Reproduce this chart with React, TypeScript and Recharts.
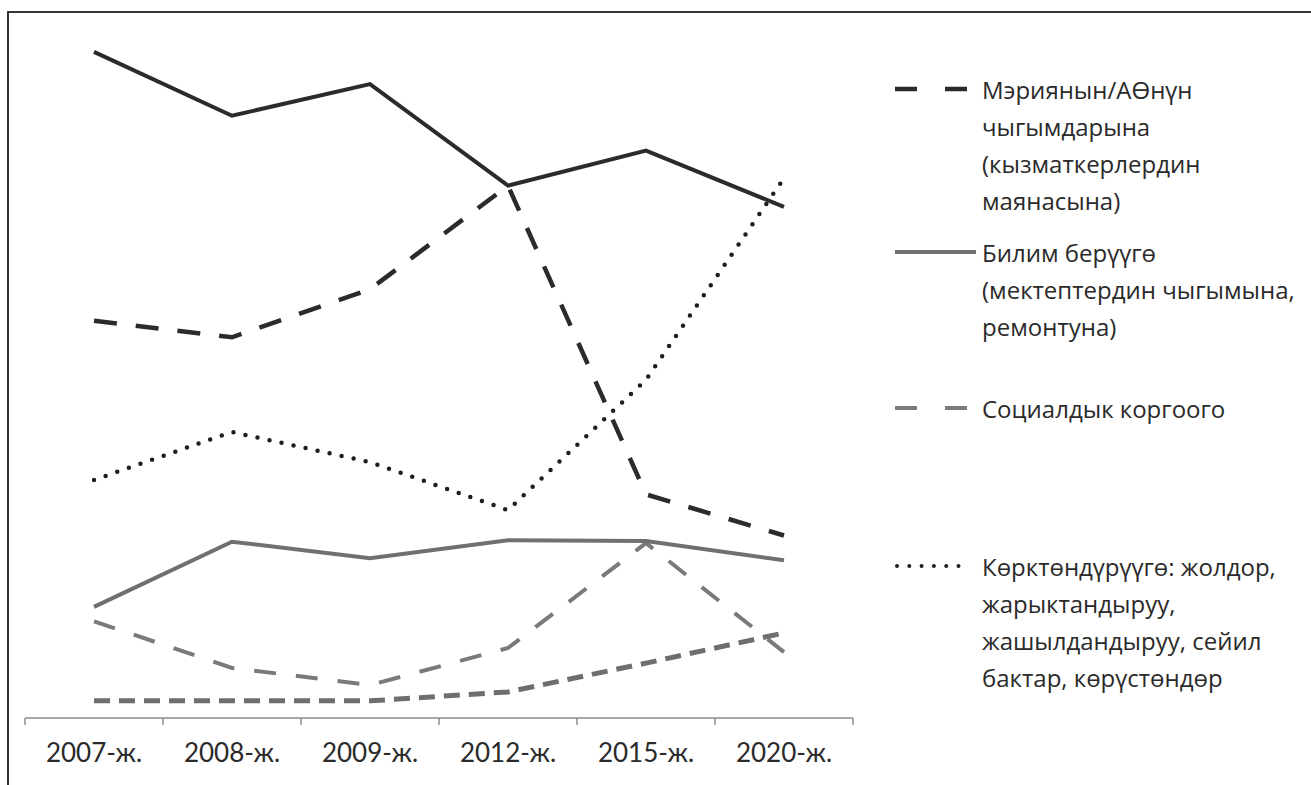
import React from 'react';
import { LineChart, Line, XAxis, YAxis } from 'recharts';

const categories = ['2007-ж.', '2008-ж.', '2009-ж.', '2012-ж.', '2015-ж.', '2020-ж.'];
const totalSeries = [97.1, 87.8, 92.4, 77.6, 82.7, 74.5];
const mayorSeries = [57.9, 55.5, 62.5, 77.6, 32.6, 26.6];
const beautifySeries = [34.7, 41.7, 37.3, 30.3, 49.3, 78.7];
const educationSeries = [16.2, 25.7, 23.3, 25.9, 25.8, 23.0];
const socialSeries = [14.1, 7.3, 4.8, 10.2, 25.5, 9.6];
const otherSeries = [2.5, 2.5, 2.5, 3.8, 8.0, 12.4];

const legendMayor = ['Мэриянын/АӨнүн', 'чыгымдарына', '(кызматкерлердин', 'маянасына)'];
const legendEducation = ['Билим берүүгө', '(мектептердин чыгымына,', 'ремонтуна)'];
const legendSocial = ['Социалдык коргоого'];
const legendBeautify = ['Көрктөндүрүүгө: жолдор,', 'жарыктандыруу,', 'жашылдандыруу, сейил', 'бактар, көрүстөндөр'];

const data = categories.map((c, i) => ({
  cat: c,
  total: totalSeries[i],
  mayor: mayorSeries[i],
  beautify: beautifySeries[i],
  education: educationSeries[i],
  social: socialSeries[i],
  other: otherSeries[i],
}));

const CHART_W = 870;
const CHART_H = 785;
const M_LEFT = 25;
const M_RIGHT = 17;
const BAND = (CHART_W - M_LEFT - M_RIGHT) / categories.length;

const AXIS_COLOR = '#8c8c8c';

const Tick = (props: any) => {
  const { x, y, payload, index } = props;
  const left = x - BAND / 2;
  const right = x + BAND / 2;
  return (
    <g>
      <line x1={left} y1={y} x2={left} y2={y + 7} stroke={AXIS_COLOR} strokeWidth={1.5} />
      {index === categories.length - 1 && (
        <line x1={right} y1={y} x2={right} y2={y + 7} stroke={AXIS_COLOR} strokeWidth={1.5} />
      )}
      <text
        x={x}
        y={y + 44}
        textAnchor="middle"
        fill="#2a2a2a"
        style={{ fontFamily: 'Lato, "Open Sans", sans-serif', fontSize: 26 }}
      >
        {payload.value}
      </text>
    </g>
  );
};

const textStyle: React.CSSProperties = {
  position: 'absolute',
  left: 982,
  fontFamily: '"Open Sans", sans-serif',
  fontSize: 24,
  lineHeight: '37px',
  color: '#2a2a2a',
  whiteSpace: 'nowrap',
};

function LegendItem({ top, lines, sample }: { top: number; lines: string[]; sample: React.ReactNode }) {
  return (
    <>
      <svg style={{ position: 'absolute', left: 890, top: top - 10, overflow: 'visible' }} width={90} height={20}>
        {sample}
      </svg>
      <div style={{ ...textStyle, top: top - 18.5 }}>
        {lines.map((l, i) => (
          <div key={i}>{l}</div>
        ))}
      </div>
    </>
  );
}

export default function App() {
  return (
    <div style={{ position: 'relative', width: 1311, height: 785, background: '#fff', overflow: 'hidden' }}>
      <style>{`body{margin:0;}`}</style>
      <div style={{ position: 'absolute', left: 7, top: 11, width: 1304, height: 0, borderTop: '2.5px solid #333' }} />
      <div style={{ position: 'absolute', left: 7, top: 11, width: 0, height: 774, borderLeft: '2.5px solid #333' }} />
      <div style={{ position: 'absolute', left: 0, top: 0 }}>
        <LineChart width={CHART_W} height={CHART_H} data={data} margin={{ top: 32, right: M_RIGHT, left: M_LEFT, bottom: 0 }}>
          <XAxis
            dataKey="cat"
            scale="band"
            height={67}
            axisLine={{ stroke: AXIS_COLOR, strokeWidth: 1.5 }}
            tickLine={false}
            tickSize={0}
            tickMargin={0}
            interval={0}
            tick={<Tick />}
          />
          <YAxis hide domain={[0, 100]} />
          <Line dataKey="other" type="linear" stroke="#6e6e6e" strokeWidth={5} strokeDasharray="16 9" dot={false} activeDot={false} isAnimationActive={false} />
          <Line dataKey="social" type="linear" stroke="#7a7a7a" strokeWidth={4} strokeDasharray="22 20" dot={false} activeDot={false} isAnimationActive={false} />
          <Line dataKey="education" type="linear" stroke="#707070" strokeWidth={4} dot={false} activeDot={false} isAnimationActive={false} />
          <Line dataKey="beautify" type="linear" stroke="#1e1e1e" strokeWidth={4.5} strokeDasharray="0 12.3" strokeLinecap="round" dot={false} activeDot={false} isAnimationActive={false} />
          <Line dataKey="mayor" type="linear" stroke="#2b2b2b" strokeWidth={4.5} strokeDasharray="23 19" dot={false} activeDot={false} isAnimationActive={false} />
          <Line dataKey="total" type="linear" stroke="#2b2b2b" strokeWidth={4} dot={false} activeDot={false} isAnimationActive={false} />
        </LineChart>
      </div>
      <LegendItem
        top={89}
        lines={legendMayor}
        sample={<line x1={5} y1={10} x2={78} y2={10} stroke="#2b2b2b" strokeWidth={4.5} strokeDasharray="22 28" />}
      />
      <LegendItem
        top={252}
        lines={legendEducation}
        sample={<line x1={5} y1={10} x2={86} y2={10} stroke="#707070" strokeWidth={4} />}
      />
      <LegendItem
        top={408}
        lines={legendSocial}
        sample={<line x1={5} y1={10} x2={78} y2={10} stroke="#7a7a7a" strokeWidth={4} strokeDasharray="22 28" />}
      />
      <LegendItem
        top={566}
        lines={legendBeautify}
        sample={<line x1={7} y1={10} x2={78} y2={10} stroke="#1e1e1e" strokeWidth={4} strokeDasharray="0 12.3" strokeLinecap="round" />}
      />
    </div>
  );
}
